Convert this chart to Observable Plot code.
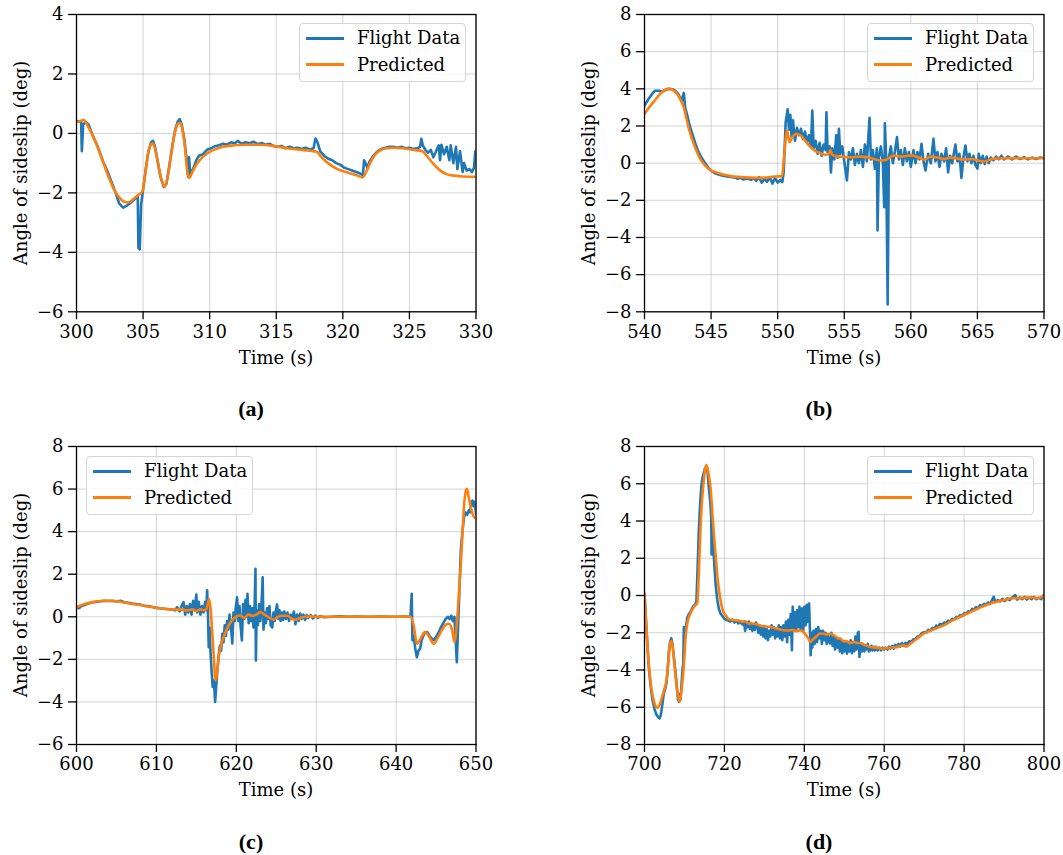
<!DOCTYPE html>
<html><head><meta charset="utf-8">
<script src="https://cdn.jsdelivr.net/npm/d3@7"></script>
<script src="https://cdn.jsdelivr.net/npm/@observablehq/plot@0.6"></script>
<style>
body{margin:0;background:#fff;}
#fig{position:relative;width:1063px;height:855px;font-family:'DejaVu Serif',serif;color:#000;overflow:hidden;background:#fff}
.panel{position:absolute}
.lbl{position:absolute;font-size:18px;white-space:nowrap;transform:translate(-50%,-50%)}
.ylbl{position:absolute;font-size:18px;white-space:nowrap;transform:translate(-50%,-50%) rotate(-90deg)}
.cap{font-family:'Liberation Serif',serif;font-weight:bold;font-size:22px}
.legend{position:absolute;border:1px solid #d4d4d4;border-radius:4px;background:rgba(255,255,255,0.85);box-sizing:border-box}
.legend .sw{position:absolute;left:6px;width:38px;height:3px}
.legend .tx{position:absolute;left:57px;font-size:18px;line-height:20px;white-space:nowrap}
</style></head><body><div id="fig"></div>
<script>
// ---------- tick labels ----------
const xTicksA = [300,305,310,315,320,325,330];
const yTicksA = [-6,-4,-2,0,2,4];
const xTicksB = [540,545,550,555,560,565,570];
const yTicksB = [-8,-6,-4,-2,0,2,4,6,8];
const xTicksC = [600,610,620,630,640,650];
const yTicksC = [-6,-4,-2,0,2,4,6,8];
const xTicksD = [700,720,740,760,780,800];
const yTicksD = [-8,-6,-4,-2,0,2,4,6,8];
const seriesNames = ["Flight Data","Predicted"];
const captions = ["(a)","(b)","(c)","(d)"];
const xLabel = "Time (s)";
const yLabel = "Angle of sideslip (deg)";

// ---------- panel (a) ----------
const flightA = [[300.0,0.42],[300.2,0.40],[300.35,0.38],[300.4,-0.6],[300.5,0.30],[300.7,0.38],[300.9,0.30],[301.2,-0.05],[301.6,-0.45],[302.0,-0.95],[302.3,-1.25],[302.6,-1.6],[302.9,-1.95],[303.2,-2.35],[303.5,-2.5],[303.8,-2.42],[304.1,-2.32],[304.4,-2.2],[304.6,-2.1],[304.65,-3.85],[304.75,-3.9],[304.85,-2.4],[305.0,-1.9],[305.2,-1.2],[305.4,-0.6],[305.6,-0.3],[305.75,-0.25],[305.9,-0.45],[306.1,-0.95],[306.3,-1.45],[306.55,-1.8],[306.75,-1.7],[307.0,-1.0],[307.2,-0.4],[307.4,0.1],[307.6,0.4],[307.75,0.48],[307.9,0.3],[308.1,-0.2],[308.3,-1.0],[308.38,-1.45],[308.45,-0.8],[308.55,-1.4],[308.8,-1.15],[309.0,-0.9],[309.2,-0.75],[309.5,-0.7],[309.8,-0.55],[310.1,-0.5],[310.4,-0.43],[310.7,-0.4],[311.0,-0.35],[311.3,-0.38],[311.6,-0.3],[311.9,-0.33],[312.1,-0.25],[312.4,-0.35],[312.7,-0.3],[313.0,-0.33],[313.3,-0.28],[313.6,-0.36],[313.9,-0.32],[314.2,-0.38],[314.5,-0.35],[314.8,-0.42],[315.1,-0.45],[315.4,-0.42],[315.7,-0.5],[316.0,-0.45],[316.3,-0.5],[316.6,-0.48],[316.9,-0.52],[317.2,-0.48],[317.5,-0.55],[317.8,-0.5],[317.95,-0.17],[318.1,-0.3],[318.3,-0.6],[318.6,-0.75],[318.9,-0.85],[319.2,-0.9],[319.5,-1.0],[319.8,-1.05],[320.1,-1.15],[320.4,-1.2],[320.7,-1.25],[321.0,-1.3],[321.3,-1.35],[321.5,-1.4],[321.6,-0.9],[321.7,-1.0],[321.85,-1.15],[322.0,-0.95],[322.3,-0.75],[322.6,-0.6],[322.9,-0.52],[323.2,-0.48],[323.5,-0.45],[323.8,-0.45],[324.1,-0.48],[324.4,-0.45],[324.7,-0.5],[325.0,-0.48],[325.3,-0.52],[325.6,-0.5],[325.8,-0.45],[325.9,-0.18],[326.0,-0.4],[326.2,-0.55],[326.4,-0.65],[326.6,-0.55],[326.8,-0.8],[327.0,-0.6],[327.2,-0.4],[327.3,-0.9],[327.4,-0.38],[327.6,-0.7],[327.8,-0.45],[328.0,-0.9],[328.1,-0.4],[328.3,-1.0],[328.5,-0.45],[328.6,-1.2],[328.8,-0.6],[329.0,-1.3],[329.1,-1.0],[329.3,-1.25],[329.5,-1.2],[329.7,-1.3],[329.85,-1.15],[329.95,-0.6],[330.0,-1.0]];
const predA = [[300.0,0.38],[300.3,0.42],[300.55,0.45],[300.9,0.2],[301.3,-0.15],[301.7,-0.6],[302.05,-1.03],[302.4,-1.45],[302.8,-1.87],[303.2,-2.15],[303.6,-2.3],[303.9,-2.32],[304.3,-2.2],[304.7,-2.05],[304.95,-1.95],[305.15,-1.4],[305.35,-0.75],[305.55,-0.4],[305.7,-0.33],[305.85,-0.45],[306.1,-0.95],[306.35,-1.5],[306.62,-1.8],[306.85,-1.45],[307.1,-0.75],[307.4,0.05],[307.6,0.32],[307.75,0.36],[307.95,0.15],[308.15,-0.5],[308.3,-1.2],[308.45,-1.5],[308.7,-1.3],[309.0,-1.05],[309.5,-0.78],[310.0,-0.62],[310.5,-0.52],[311.0,-0.45],[311.8,-0.4],[312.8,-0.38],[313.8,-0.38],[314.8,-0.42],[315.8,-0.5],[316.8,-0.55],[317.5,-0.58],[318.05,-0.62],[318.4,-0.8],[318.8,-0.97],[319.2,-1.1],[319.6,-1.2],[320.1,-1.28],[320.6,-1.35],[321.1,-1.42],[321.47,-1.48],[321.8,-1.25],[322.1,-0.95],[322.45,-0.7],[322.9,-0.55],[323.3,-0.5],[323.8,-0.48],[324.5,-0.5],[325.3,-0.55],[325.97,-0.6],[326.3,-0.75],[326.6,-0.92],[327.0,-1.12],[327.35,-1.26],[327.8,-1.37],[328.35,-1.42],[329.0,-1.45],[330.0,-1.46]];

// ---------- panel (b) ----------
const flightB = [[540.0,3.1],[540.3,3.45],[540.6,3.75],[540.8,3.9],[541.1,3.9],[541.3,3.85],[541.6,3.95],[541.8,4.0],[542.1,3.98],[542.3,3.9],[542.55,3.7],[542.8,3.35],[542.95,3.78],[543.05,3.0],[543.2,2.6],[543.4,2.0],[543.6,1.55],[543.8,1.1],[544.0,0.7],[544.2,0.4],[544.5,0.05],[544.8,-0.25],[545.0,-0.4],[545.3,-0.55],[545.6,-0.62],[545.9,-0.68],[546.2,-0.72],[546.5,-0.75],[546.8,-0.78],[547.0,-0.85],[547.2,-0.78],[547.4,-0.88],[547.7,-0.82],[548.0,-0.9],[548.2,-0.8],[548.4,-0.95],[548.6,-0.75],[548.8,-1.05],[549.0,-0.85],[549.2,-1.0],[549.4,-0.75],[549.6,-1.1],[549.8,-0.8],[550.0,-1.05],[550.2,-0.9],[550.35,-1.02],[550.45,-0.5],[550.6,2.2],[550.75,2.9],[550.85,1.8],[550.95,2.6],[551.05,1.4],[551.15,2.3],[551.3,1.2],[551.45,1.9],[551.6,1.5],[551.75,1.85],[551.9,1.3],[552.05,1.7],[552.2,1.1],[552.35,1.5],[552.5,0.9],[552.6,2.83],[552.7,0.8],[552.85,1.2],[553.0,0.5],[553.15,1.1],[553.3,0.4],[553.45,1.0],[553.6,0.7],[553.66,2.74],[553.75,0.6],[553.9,0.9],[554.0,-0.5],[554.1,0.8],[554.25,0.2],[554.4,1.5],[554.5,0.3],[554.6,1.85],[554.7,0.5],[554.85,0.9],[555.0,0.1],[555.2,-0.93],[555.35,0.6],[555.5,0.2],[555.65,0.8],[555.8,-0.1],[555.95,0.5],[556.1,0.0],[556.25,0.7],[556.4,-0.2],[556.55,1.0],[556.7,0.1],[556.9,2.44],[557.0,0.2],[557.15,0.7],[557.3,-0.3],[557.45,0.8],[557.5,-3.62],[557.6,0.3],[557.75,0.9],[557.9,0.0],[558.0,-2.37],[558.05,2.15],[558.15,0.2],[558.26,-7.6],[558.35,0.3],[558.5,0.9],[558.65,0.0],[558.8,0.6],[558.96,1.4],[559.1,0.2],[559.25,0.7],[559.4,-0.1],[559.55,0.8],[559.7,0.1],[559.85,0.6],[560.0,-0.2],[560.2,0.7],[560.35,0.0],[560.5,0.6],[560.65,0.2],[560.8,1.04],[560.95,0.1],[561.1,-0.4],[561.3,0.5],[561.5,0.0],[561.7,1.31],[561.85,0.1],[562.0,0.6],[562.15,-0.2],[562.3,0.5],[562.5,0.1],[562.65,0.8],[562.8,-0.5],[562.95,0.4],[563.1,0.0],[563.35,1.0],[563.5,0.1],[563.65,0.5],[563.8,-0.79],[563.95,0.3],[564.1,0.95],[564.25,0.1],[564.4,0.5],[564.55,0.0],[564.7,0.4],[564.85,-0.1],[565.0,-0.3],[565.1,0.5],[565.25,0.0],[565.4,0.4],[565.55,-0.05],[565.7,0.35],[565.85,0.0],[566.0,0.3],[566.2,0.15],[566.4,0.35],[566.6,0.2],[566.8,0.4],[567.0,0.2],[567.3,0.35],[567.6,0.2],[567.9,0.35],[568.2,0.22],[568.5,0.32],[568.8,0.2],[569.1,0.3],[569.4,0.22],[569.7,0.3],[570.0,0.28]];
const predB = [[540.0,2.65],[540.4,3.05],[540.8,3.4],[541.2,3.75],[541.6,3.95],[541.8,4.0],[542.1,3.95],[542.45,3.73],[542.75,3.35],[542.95,3.0],[543.15,2.4],[543.3,1.94],[543.55,1.35],[543.8,0.86],[544.1,0.35],[544.45,-0.05],[544.9,-0.35],[545.45,-0.52],[546.0,-0.63],[546.45,-0.7],[547.3,-0.75],[548.2,-0.79],[549.0,-0.78],[549.8,-0.72],[550.33,-0.7],[550.5,0.5],[550.7,1.76],[550.9,1.13],[551.1,1.4],[551.46,1.58],[551.7,1.5],[551.96,1.31],[552.3,1.0],[552.6,0.77],[552.9,0.62],[553.2,0.54],[553.6,0.45],[553.85,0.5],[553.95,0.7],[554.1,0.45],[554.6,0.35],[555.46,0.32],[556.2,0.35],[557.0,0.28],[557.7,0.14],[558.2,0.2],[558.7,0.41],[559.3,0.35],[560.0,0.42],[560.6,0.3],[561.0,0.2],[561.5,0.35],[562.0,0.3],[562.5,0.22],[563.0,0.3],[563.5,0.25],[564.0,0.2],[564.6,0.22],[565.0,0.15],[565.5,0.09],[566.0,0.2],[566.5,0.25],[567.5,0.27],[568.5,0.26],[570.0,0.27]];

// ---------- panel (c) ----------
const flightC = [[600.0,0.45],[600.3,0.4],[600.6,0.5],[601.0,0.55],[601.5,0.62],[602.0,0.68],[602.5,0.7],[603.0,0.73],[603.5,0.75],[604.0,0.74],[604.5,0.75],[605.0,0.72],[605.5,0.75],[606.0,0.68],[606.5,0.66],[607.0,0.62],[607.5,0.6],[608.0,0.57],[608.5,0.52],[609.0,0.5],[609.5,0.46],[610.0,0.42],[610.5,0.4],[611.0,0.38],[611.5,0.35],[612.0,0.35],[612.3,0.3],[612.6,0.45],[612.9,0.25],[613.2,0.55],[613.4,0.69],[613.6,0.1],[613.8,0.5],[614.0,0.2],[614.2,0.6],[614.4,0.1],[614.6,0.75],[614.8,0.3],[615.0,1.05],[615.1,0.2],[615.3,0.7],[615.5,0.1],[615.7,0.5],[615.9,0.2],[616.1,0.7],[616.25,0.3],[616.35,1.24],[616.45,0.2],[616.55,-1.43],[616.65,-0.5],[616.75,-1.5],[616.9,-2.5],[617.05,-3.3],[617.2,-3.0],[617.35,-4.0],[617.5,-3.2],[617.65,-2.4],[617.8,-1.8],[617.95,-1.35],[618.1,-1.6],[618.25,-0.8],[618.4,-1.2],[618.55,-0.4],[618.7,-0.9],[618.85,-0.2],[619.0,-0.6],[619.15,0.1],[619.3,-0.3],[619.5,-1.25],[619.65,0.2],[619.8,-0.2],[619.95,0.5],[620.1,0.92],[620.25,-0.2],[620.4,0.5],[620.55,-0.5],[620.7,-1.11],[620.85,0.6],[621.0,-0.1],[621.15,0.8],[621.3,0.0],[621.4,1.08],[621.55,-0.3],[621.7,0.5],[621.85,-0.2],[622.0,0.4],[622.15,-0.5],[622.3,0.6],[622.4,2.25],[622.45,-2.05],[622.55,0.3],[622.7,-0.4],[622.85,0.6],[623.0,-0.2],[623.15,0.5],[623.3,1.86],[623.4,-0.6],[623.55,0.2],[623.7,-0.3],[623.85,0.4],[624.0,-0.1],[624.15,0.5],[624.3,-0.4],[624.5,-0.5],[624.65,0.2],[624.8,-0.2],[624.95,0.3],[625.1,0.58],[625.25,-0.1],[625.4,0.3],[625.55,-0.2],[625.7,0.2],[625.85,-0.15],[626.0,0.25],[626.2,-0.1],[626.4,0.2],[626.6,-0.2],[626.8,0.1],[627.0,-0.1],[627.2,0.25],[627.4,-0.35],[627.6,0.1],[627.8,-0.2],[628.0,0.15],[628.2,-0.1],[628.4,0.1],[628.6,-0.15],[628.8,0.08],[629.0,-0.05],[629.3,0.08],[629.6,-0.08],[629.9,0.05],[630.2,-0.05],[630.5,0.03],[631.0,-0.02],[632.0,0.0],[633.0,0.02],[634.0,0.0],[635.0,0.01],[636.0,0.0],[637.0,0.0],[638.0,0.01],[639.0,0.0],[640.0,0.0],[641.0,0.01],[641.8,0.0],[641.95,1.08],[642.05,-1.1],[642.2,-0.9],[642.4,-1.5],[642.6,-1.9],[642.8,-1.6],[643.0,-1.5],[643.2,-1.1],[643.4,-0.9],[643.6,-0.75],[643.9,-0.72],[644.2,-0.9],[644.5,-1.05],[644.7,-1.1],[645.0,-0.95],[645.3,-0.75],[645.6,-0.5],[645.9,-0.3],[646.2,-0.1],[646.5,0.0],[646.7,-0.1],[646.9,0.05],[647.1,-0.2],[647.3,0.0],[647.45,-1.0],[647.6,-2.13],[647.75,-0.5],[647.9,1.0],[648.1,3.12],[648.3,4.0],[648.5,4.68],[648.7,4.9],[648.9,4.8],[649.1,5.0],[649.25,4.9],[649.4,5.3],[649.55,5.46],[649.7,5.2],[649.85,5.4],[650.0,4.84]];
const predC = [[600.0,0.45],[601.0,0.6],[602.0,0.69],[603.0,0.74],[604.0,0.75],[605.0,0.73],[606.0,0.67],[607.0,0.6],[608.0,0.55],[609.0,0.48],[610.0,0.42],[611.0,0.38],[612.0,0.34],[613.0,0.35],[613.9,0.3],[614.5,0.35],[615.0,0.28],[615.5,0.35],[616.0,0.3],[616.3,0.4],[616.6,0.85],[616.8,0.3],[616.95,-0.5],[617.2,-2.0],[617.4,-2.99],[617.6,-2.6],[617.8,-1.9],[618.1,-1.3],[618.4,-0.96],[618.8,-0.6],[619.3,-0.25],[619.8,-0.05],[620.2,0.05],[620.5,0.06],[621.0,-0.05],[621.5,0.1],[622.0,0.05],[622.5,0.1],[623.0,0.22],[623.5,0.1],[624.0,0.0],[624.7,-0.14],[625.2,0.0],[625.7,0.05],[626.4,0.05],[627.0,-0.1],[627.4,-0.14],[628.0,-0.05],[628.6,0.0],[629.3,0.02],[630.0,0.0],[635.0,0.0],[641.8,0.0],[642.2,-0.4],[642.6,-1.27],[643.1,-1.0],[643.6,-0.72],[644.1,-0.9],[644.7,-1.27],[645.2,-1.0],[645.7,-0.64],[646.2,-0.38],[646.6,-0.33],[647.0,-0.6],[647.3,-1.19],[647.6,-0.3],[647.85,1.0],[648.1,2.49],[648.35,4.2],[648.5,5.2],[648.65,5.75],[648.8,6.01],[648.95,5.9],[649.1,5.6],[649.3,5.23],[649.6,4.8],[650.0,4.6]];

// ---------- panel (d) ----------
const flightD = [[700.0,0.1],[700.5,-1.8],[701.0,-3.66],[701.5,-4.8],[702.0,-5.6],[702.5,-6.1],[703.0,-6.4],[703.5,-6.55],[703.8,-6.6],[704.1,-6.4],[704.5,-5.8],[704.8,-5.3],[705.2,-5.0],[705.5,-4.7],[705.8,-4.0],[706.1,-3.0],[706.4,-2.5],[706.7,-2.3],[707.0,-2.6],[707.4,-3.4],[707.8,-4.2],[708.1,-4.9],[708.4,-5.6],[708.6,-5.7],[708.8,-5.3],[709.0,-5.6],[709.2,-5.0],[709.5,-4.0],[709.7,-3.66],[709.85,-1.7],[710.0,-2.5],[710.3,-1.8],[710.7,-1.2],[711.1,-1.0],[711.5,-0.88],[711.9,-0.7],[712.3,-0.55],[712.7,-0.5],[713.0,-0.3],[713.3,1.5],[713.6,3.5],[713.9,4.8],[714.2,5.8],[714.5,6.3],[714.8,6.56],[715.1,6.8],[715.5,6.92],[715.8,6.6],[716.1,5.8],[716.5,4.95],[716.7,4.2],[716.8,2.2],[716.95,3.8],[717.2,2.6],[717.5,1.6],[717.8,0.6],[718.2,-0.2],[718.6,-0.7],[719.0,-0.95],[719.5,-1.1],[720.0,-1.25],[720.5,-1.3],[721.0,-1.35],[721.5,-1.4],[722.0,-1.3],[722.5,-1.45],[723.0,-1.35],[723.5,-1.5],[724.0,-1.4],[724.5,-1.55],[724.9,-1.45],[725.2,-1.9],[725.5,-1.5],[725.8,-1.7],[726.1,-1.4],[726.4,-1.8],[726.7,-1.5],[727.0,-1.9],[727.3,-1.55],[727.6,-1.85],[727.9,-1.45],[728.2,-1.6],[728.5,-2.0],[728.8,-1.6],[729.1,-2.1],[729.4,-1.7],[729.7,-2.2],[730.0,-1.75],[730.3,-2.3],[730.6,-1.8],[730.9,-2.4],[731.2,-1.9],[731.5,-2.2],[731.8,-1.6],[732.1,-2.1],[732.4,-1.7],[732.7,-2.3],[733.0,-1.8],[733.3,-2.2],[733.6,-1.6],[733.9,-2.3],[734.2,-1.7],[734.5,-2.4],[734.8,-1.6],[735.1,-2.2],[735.4,-1.4],[735.7,-2.5],[736.0,-1.3],[736.3,-2.1],[736.6,-1.0],[736.9,-2.94],[737.1,-0.6],[737.3,-1.8],[737.6,-0.9],[737.9,-1.9],[738.2,-0.8],[738.5,-1.7],[738.8,-0.6],[739.1,-1.8],[739.4,-0.7],[739.7,-1.9],[740.0,-0.61],[740.3,-1.6],[740.6,-0.5],[740.9,-1.4],[741.2,-0.43],[741.4,-1.8],[741.6,-3.2],[741.8,-2.0],[742.0,-2.8],[742.3,-1.9],[742.6,-2.6],[742.9,-1.8],[743.2,-2.5],[743.5,-1.7],[743.8,-2.3],[744.1,-1.9],[744.4,-2.6],[744.7,-1.9],[745.0,-2.4],[745.3,-2.0],[745.6,-2.6],[745.9,-2.1],[746.2,-2.5],[746.5,-2.58],[746.8,-2.0],[747.1,-2.7],[747.4,-2.2],[747.7,-2.9],[748.0,-2.3],[748.3,-2.8],[748.6,-2.4],[748.9,-3.0],[749.2,-2.4],[749.5,-3.1],[749.8,-2.5],[750.1,-3.0],[750.4,-2.5],[750.7,-3.12],[751.0,-2.6],[751.3,-3.0],[751.6,-2.4],[751.9,-3.1],[752.2,-2.5],[752.5,-3.0],[752.8,-2.2],[753.1,-2.9],[753.4,-2.0],[753.6,-1.95],[753.8,-3.3],[754.1,-2.6],[754.4,-3.0],[754.7,-2.6],[755.0,-3.0],[755.3,-2.7],[755.6,-2.9],[755.9,-2.6],[756.2,-3.0],[756.5,-2.94],[756.8,-2.7],[757.1,-2.95],[757.4,-2.75],[757.7,-2.95],[758.0,-2.75],[758.4,-2.95],[758.8,-2.8],[759.2,-2.95],[759.6,-2.8],[760.0,-2.9],[760.4,-2.8],[760.8,-2.9],[761.2,-2.75],[761.6,-2.85],[762.0,-2.7],[762.4,-2.85],[762.8,-2.65],[763.2,-2.76],[763.6,-2.6],[764.0,-2.75],[764.4,-2.55],[764.8,-2.7],[765.3,-2.55],[765.8,-2.6],[766.3,-2.45],[766.8,-2.5],[767.3,-2.35],[767.8,-2.35],[768.3,-2.2],[768.8,-2.2],[769.3,-2.05],[770.0,-1.96],[770.5,-2.0],[771.0,-1.85],[771.5,-1.9],[772.0,-1.75],[772.5,-1.78],[773.0,-1.62],[773.5,-1.68],[774.0,-1.52],[774.5,-1.58],[775.0,-1.45],[775.5,-1.48],[776.0,-1.35],[776.5,-1.4],[777.0,-1.25],[777.5,-1.3],[778.0,-1.15],[778.5,-1.2],[779.0,-1.05],[779.5,-1.1],[780.0,-0.95],[780.5,-0.98],[781.0,-0.85],[781.5,-0.88],[782.0,-0.72],[782.5,-0.78],[783.0,-0.62],[783.5,-0.68],[784.0,-0.52],[784.5,-0.58],[785.0,-0.45],[785.5,-0.5],[786.0,-0.38],[786.6,-0.42],[787.4,-0.07],[787.8,-0.35],[788.4,-0.25],[789.0,-0.32],[789.6,-0.18],[790.2,-0.3],[790.8,-0.15],[791.4,-0.25],[792.0,-0.12],[792.8,0.02],[793.3,-0.22],[793.9,-0.1],[794.5,-0.2],[795.1,-0.08],[795.7,-0.22],[796.3,-0.1],[796.9,-0.2],[797.5,-0.08],[798.1,-0.2],[798.7,-0.12],[799.3,-0.2],[800.0,0.05]];
const predD = [[700.0,0.1],[700.5,-1.8],[701.0,-3.48],[701.6,-4.8],[702.3,-5.63],[702.8,-5.95],[703.3,-6.03],[703.9,-5.8],[704.4,-5.45],[705.0,-5.0],[705.5,-4.56],[706.0,-3.5],[706.4,-2.6],[706.7,-2.45],[707.0,-2.7],[707.4,-3.5],[707.8,-4.4],[708.3,-5.3],[708.8,-5.72],[709.2,-5.2],[709.8,-3.9],[710.3,-2.2],[710.8,-1.4],[711.3,-1.06],[712.0,-0.75],[712.6,-0.55],[713.2,-0.43],[713.6,1.2],[714.0,3.52],[714.4,5.1],[714.85,6.2],[715.2,6.8],[715.5,7.01],[715.8,6.8],[716.2,6.3],[716.5,5.85],[717.0,4.4],[717.4,3.2],[717.8,2.2],[718.3,0.9],[719.0,-0.2],[719.6,-0.8],[720.3,-1.06],[721.0,-1.25],[722.4,-1.33],[723.5,-1.35],[724.5,-1.4],[725.3,-1.38],[726.0,-1.5],[727.0,-1.5],[728.2,-1.55],[729.0,-1.62],[730.0,-1.65],[731.5,-1.69],[732.5,-1.75],[733.5,-1.8],[734.9,-1.87],[736.0,-1.88],[737.0,-1.85],[738.0,-1.9],[739.0,-1.87],[739.8,-1.95],[740.3,-2.1],[741.0,-2.3],[741.5,-2.49],[742.2,-2.35],[743.0,-2.2],[744.0,-2.04],[744.8,-2.05],[745.5,-2.1],[746.5,-2.05],[747.5,-2.15],[748.3,-2.28],[749.0,-2.31],[749.8,-2.45],[750.5,-2.45],[751.5,-2.55],[752.5,-2.5],[753.3,-2.55],[754.0,-2.55],[755.0,-2.65],[756.5,-2.76],[758.0,-2.8],[759.5,-2.85],[761.0,-2.82],[763.0,-2.78],[764.9,-2.67],[765.5,-2.75],[766.5,-2.6],[768.0,-2.35],[769.9,-2.04],[772.0,-1.85],[774.9,-1.6],[777.0,-1.35],[779.9,-1.06],[782.0,-0.85],[784.9,-0.57],[787.0,-0.4],[789.9,-0.25],[792.0,-0.15],[794.9,-0.13],[797.0,-0.1],[798.0,-0.15],[799.0,-0.12],[800.0,0.02]];

const BLUE = "#1f77b4", ORANGE = "#ff7f0e";

const panels = [
  {left:0,   top:0,   xd:[300,330], xt:xTicksA, yd:[-6,4], yt:yTicksA, flight:flightA, pred:predA, leg:[299,23]},
  {left:568, top:0,   xd:[540,570], xt:xTicksB, yd:[-8,8], yt:yTicksB, flight:flightB, pred:predB, leg:[867,23]},
  {left:0,   top:432, xd:[600,650], xt:xTicksC, yd:[-6,8], yt:yTicksC, flight:flightC, pred:predC, leg:[86,456]},
  {left:568, top:432, xd:[700,800], xt:xTicksD, yd:[-8,8], yt:yTicksD, flight:flightD, pred:predD, leg:[867,456]}
];

const fig = document.getElementById("fig");
const fmt = d => d < 0 ? "\u2212" + (-d) : String(d);

panels.forEach((p, i) => {
  const mb = i < 2 ? 33.7 : 33;
  const chart = Plot.plot({
    width: 495, height: 345,
    marginLeft: 76, marginRight: 19.5, marginTop: 14, marginBottom: mb,
    style: {fontFamily: "'DejaVu Serif', serif", fontSize: "18px", color: "#000", background: "transparent", overflow: "visible"},
    x: {domain: p.xd, label: null},
    y: {domain: p.yd, label: null},
    marks: [
      Plot.gridX(p.xt, {stroke: "#b0b0b0", strokeOpacity: 0.55, strokeWidth: 1}),
      Plot.gridY(p.yt, {stroke: "#b0b0b0", strokeOpacity: 0.55, strokeWidth: 1}),
      Plot.line(p.flight, {x: d => d[0], y: d => d[1], stroke: BLUE, strokeWidth: 2.6, clip: true}),
      Plot.line(p.pred, {x: d => d[0], y: d => d[1], stroke: ORANGE, strokeWidth: 2.6, curve: "monotone-x", clip: true}),
      Plot.frame({stroke: "#000", strokeWidth: 1.3}),
      Plot.axisX(p.xt, {tickSize: 8, tickPadding: 5, tickFormat: d => String(d), label: null, strokeWidth: 1.3}),
      Plot.axisY(p.yt, {tickSize: 8, tickPadding: 5, tickFormat: fmt, label: null, strokeWidth: 1.3})
    ]
  });
  chart.classList.add("panel");
  chart.style.left = p.left + "px";
  chart.style.top = p.top + "px";
  fig.appendChild(chart);

  const cx = p.left + 76 + 200;
  const cy = p.top + 14 + 149;
  const xl = document.createElement("div");
  xl.className = "lbl"; xl.textContent = xLabel;
  xl.style.left = cx + "px"; xl.style.top = (p.top + 357) + "px";
  fig.appendChild(xl);
  const yl = document.createElement("div");
  yl.className = "ylbl"; yl.textContent = yLabel;
  yl.style.left = (p.left + 20) + "px"; yl.style.top = cy + "px";
  fig.appendChild(yl);
  const cp = document.createElement("div");
  cp.className = "lbl cap"; cp.textContent = captions[i];
  cp.style.left = (p.left + 251) + "px"; cp.style.top = (i < 2 ? 409 : 842) + "px";
  fig.appendChild(cp);
  const lg = document.createElement("div");
  lg.className = "legend";
  lg.style.left = p.leg[0] + "px"; lg.style.top = p.leg[1] + "px";
  lg.style.width = "167px"; lg.style.height = "59px";
  [BLUE, ORANGE].forEach((c, k) => {
    const yc = 14 + k * 26.6;
    const sw = document.createElement("div");
    sw.className = "sw"; sw.style.background = c; sw.style.top = (yc - 1.5) + "px";
    lg.appendChild(sw);
    const tx = document.createElement("div");
    tx.className = "tx"; tx.textContent = seriesNames[k]; tx.style.top = (yc - 10) + "px";
    lg.appendChild(tx);
  });
  fig.appendChild(lg);
});
</script></body></html>
